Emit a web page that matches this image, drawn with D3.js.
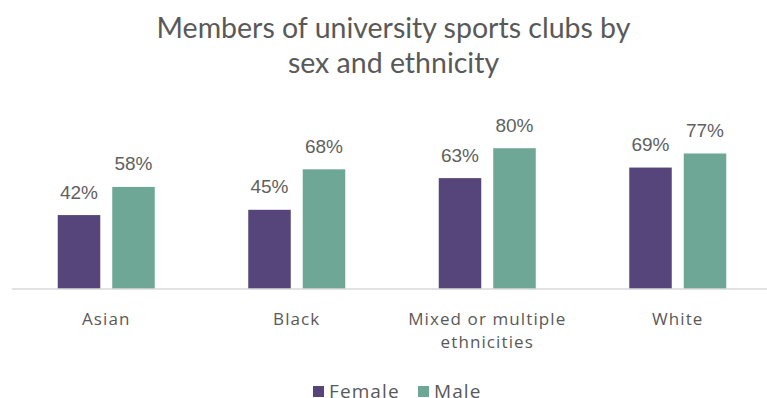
<!DOCTYPE html>
<html>
<head>
<meta charset="utf-8">
<script src="https://cdn.jsdelivr.net/npm/d3@7"></script>
<style>
  html, body { margin: 0; padding: 0; background: #fff; }
  svg { display: block; }
</style>
</head>
<body>
<svg id="chart" width="767" height="398"></svg>
<script>
// Share of students who are members of university sports clubs
const categories = ["Asian", "Black", "Mixed or multiple ethnicities", "White"];
const seriesNames = ["Female", "Male"];
const female = [42, 45, 63, 69];
const male = [58, 68, 80, 77];
const titleLines = ["Members of university sports clubs by", "sex and ethnicity"];

const colors = { Female: "#56457a", Male: "#6fa796" };
const textColor = "#595959";

const svg = d3.select("#chart");
const W = 767, H = 398;

const rows = categories.map((c, i) => ({ category: c, Female: female[i], Male: male[i] }));

const x = d3.scaleBand().domain(categories).range([11, 773]).paddingInner(0).paddingOuter(0);
const groupW = 97;
const xs = d3.scaleBand().domain(seriesNames).range([0, groupW]).paddingInner(0.22).paddingOuter(0);
const y = d3.scaleLinear().domain([0, 100]).range([289, 113]);

// Title
svg.append("g").selectAll("text")
  .data(titleLines)
  .join("text")
  .attr("x", 393.5)
  .attr("y", (d, i) => 38 + i * 35)
  .attr("text-anchor", "middle")
  .attr("font-family", "Lato, sans-serif")
  .attr("font-size", 28.5)
  .attr("fill", textColor)
  .text(d => d);

// Bars
const groups = svg.append("g").selectAll("g")
  .data(rows)
  .join("g")
  .attr("transform", d => `translate(${x(d.category) + x.bandwidth() / 2 - groupW / 2},0)`);

groups.selectAll("rect")
  .data(d => seriesNames.map(s => ({ key: s, value: d[s] })))
  .join("rect")
  .attr("x", d => xs(d.key))
  .attr("width", xs.bandwidth())
  .attr("y", d => y(d.value))
  .attr("height", d => y(0) - y(d.value))
  .attr("fill", d => colors[d.key]);

groups.selectAll("text.val")
  .data(d => seriesNames.map(s => ({ key: s, value: d[s] })))
  .join("text")
  .attr("class", "val")
  .attr("x", d => xs(d.key) + xs.bandwidth() / 2)
  .attr("y", d => y(d.value) - 16.5)
  .attr("text-anchor", "middle")
  .attr("font-family", "'Liberation Sans', Arial, sans-serif")
  .attr("font-size", 19)
  .attr("fill", "#5f5f5f")
  .text(d => d.value + "%");

// Category axis
const axis = svg.append("g")
  .attr("transform", `translate(0,${y(0)})`)
  .call(d3.axisBottom(x).tickSize(0).tickFormat(""));
axis.select(".domain").attr("stroke", "#d9d9d9").attr("stroke-width", 1.5)
  .attr("d", `M12,0H${W}`);

function wrapLines(label, maxChars) {
  const words = label.split(" ");
  const lines = [];
  let cur = "";
  words.forEach(w => {
    const next = cur ? cur + " " + w : w;
    if (next.length > maxChars && cur) { lines.push(cur); cur = w; }
    else cur = next;
  });
  if (cur) lines.push(cur);
  return lines;
}

const labels = svg.append("g").selectAll("text")
  .data(categories)
  .join("text")
  .attr("x", d => x(d) + x.bandwidth() / 2)
  .attr("y", 325)
  .attr("text-anchor", "middle")
  .attr("font-family", "'Open Sans', sans-serif")
  .attr("font-size", 17)
  .attr("letter-spacing", 1.1)
  .attr("fill", textColor);

labels.selectAll("tspan")
  .data(d => wrapLines(d, 18).map(t => ({ t, x: x(d) + x.bandwidth() / 2 })))
  .join("tspan")
  .attr("x", d => d.x)
  .attr("dy", (d, i) => i === 0 ? 0 : 23)
  .text(d => d.t);

// Legend
const legend = svg.append("g").attr("transform", "translate(313,0)");
const legendItems = legend.selectAll("g")
  .data(seriesNames)
  .join("g")
  .attr("transform", (d, i) => `translate(${i === 0 ? 0 : 105},0)`);
legendItems.append("rect")
  .attr("x", 0).attr("y", 386)
  .attr("width", 11).attr("height", 11)
  .attr("fill", d => colors[d]);
legendItems.append("text")
  .attr("x", 16).attr("y", 398)
  .attr("font-family", "'Open Sans', sans-serif")
  .attr("font-size", 19)
  .attr("letter-spacing", 1.1)
  .attr("fill", textColor)
  .text(d => d);
</script>
</body>
</html>
